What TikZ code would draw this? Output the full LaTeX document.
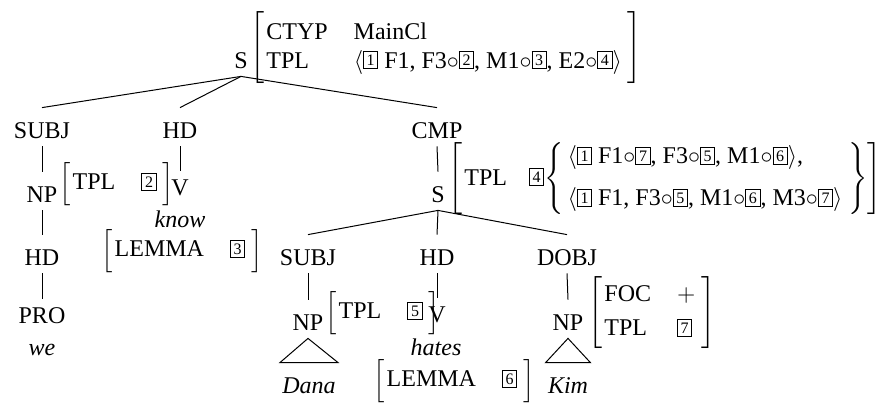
\documentclass[12pt,tikz,border=0pt]{standalone}
\usepackage{amsmath}
\usepackage{fontspec}
\setmainfont{Liberation Serif}
\usepackage{tikz}

\newcommand{\tg}[1]{{\setlength{\fboxsep}{1.3pt}\setlength{\fboxrule}{0.5pt}\raisebox{1.4pt}{\fbox{\fontsize{8}{9}\selectfont #1}}}}
\newcommand{\avm}[2][0pt]{$\left[\vcenter{\hbox{\rule{0pt}{#1}}}\begin{tabular}{@{\hspace{1pt}}l@{\hspace{13pt}}l@{\hspace{3pt}}}#2\end{tabular}\right]$}
\newcommand{\seq}[1]{$\langle$#1$\rangle$}

\begin{document}
\begin{tikzpicture}[x=0.5pt,y=-0.5pt,
    cat/.style={anchor=base,inner xsep=0pt,inner ysep=4pt,text height=11pt,text depth=0pt},
    word/.style={anchor=base,inner sep=0pt,font=\itshape},
    tri/.style={word,inner xsep=1pt,inner ysep=7pt,text height=8pt},
    avm/.style={anchor=west,inner sep=0pt},
    every edge/.style={draw,line width=0.5pt}]
\useasboundingbox (0,0) rectangle (887,403);
        \node[cat] (s_0) at (241,68) {S};
        \node[avm] (avm_0) at (250,48) {\avm[38pt]{CTYP & MainCl\\ TPL & \seq{\tg{1} F1, F3$\circ$\tg{2}, M1$\circ$\tg{3}, E2$\circ$\tg{4}}}};
        \node[cat] (subj_1) at (42,138) {SUBJ};
        \node[cat] (hd_1) at (180,138) {HD};
        \node[cat] (cmp_1) at (437,138) {CMP};
        \node[cat] (np_1) at (42,202) {NP};
        \node[avm] (avm_1) at (59,184) {\avm[22pt]{TPL & \tg{2}}};
        \node[cat,text height=8pt] (v_1) at (180,195) {V};
        \node[word] (know) at (180,227) {know};
        \node[avm] (lem_1) at (101,251) {\avm[22pt]{LEMMA & \tg{3}}};
        \node[cat] (hd_2) at (42,265) {HD};
        \node[cat,text height=8pt] (pro) at (42,323) {PRO};
        \node[word] (we) at (42,355) {we};
        \node[cat] (s_1) at (438,202) {S};
        \node[avm] (avm_2) at (448,179) {$\left[\vcenter{\hbox{\rule{0pt}{38pt}}}\begin{tabular}{@{\hspace{1pt}}l@{\hspace{11pt}}l@{}}TPL & \tg{4}$\left\{\vcenter{\hbox{\rule{0pt}{38pt}}}\begin{tabular}{@{\hspace{2pt}}l@{\hspace{3pt}}}\seq{\tg{1} F1$\circ$\tg{7}, F3$\circ$\tg{5}, M1$\circ$\tg{6}},\\[6.5pt]\seq{\tg{1} F1, F3$\circ$\tg{5}, M1$\circ$\tg{6}, M3$\circ$\tg{7}}\end{tabular}\right\}$\end{tabular}\right]$};
        \node[cat] (subj_2) at (308,265) {SUBJ};
        \node[cat] (hd_3) at (437,265) {HD};
        \node[cat] (dobj) at (567,265) {DOBJ};
        \node[cat] (np_2) at (308,330) {NP};
        \node[avm] (avm_3) at (325,313) {\avm[22pt]{TPL & \tg{5}}};
        \node[cat,text height=8pt] (v_2) at (437,322) {V};
        \node[word] (hates) at (436,355) {hates};
        \node[avm] (lem_2) at (373,381) {\avm[22pt]{LEMMA & \tg{6}}};
        \node[cat] (np_3) at (568,330) {NP};
        \node[avm] (avm_4) at (588,313) {\avm[38pt]{FOC & $+$\\[2.5pt] TPL & \tg{7}}};
        \node[tri] (dana) at (309,393) {Dana};
        \node[tri] (kim) at (568,393) {Kim};
        \path
        (s_0.south) edge (subj_1.north)
        (s_0.south) edge (hd_1.north)
        (s_0.south) edge (cmp_1.north)
        (subj_1.south) edge (np_1.north)
        (hd_1.south) edge (v_1.north)
        (cmp_1.south) edge (s_1.north)
        (np_1.south) edge (hd_2.north)
        (hd_2.south) edge (pro.north)
        (s_1.south) edge (subj_2.north)
        (s_1.south) edge (hd_3.north)
        (s_1.south) edge (dobj.north)
        (subj_2.south) edge (np_2.north)
        (hd_3.south) edge (v_2.north)
        (dobj.south) edge (np_3.north);
        \draw[line width=0.5pt] (np_2.south) -- (dana.north west) -- (dana.north east) -- cycle;
        \draw[line width=0.5pt] (np_3.south) -- (kim.north west) -- (kim.north east) -- cycle;
    \end{tikzpicture}
\end{document}
